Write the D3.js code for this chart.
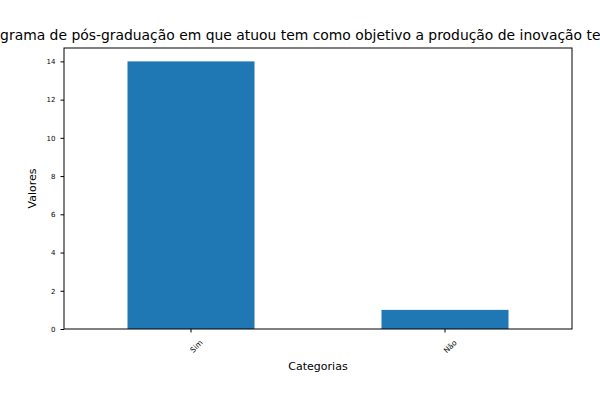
<!DOCTYPE html>
<html>
<head>
<meta charset="utf-8">
<script src="https://cdn.jsdelivr.net/npm/d3@7"></script>
<style>
  body { margin: 0; background: #fff; }
  svg text { font-family: "DejaVu Sans", sans-serif; fill: #000; }
</style>
</head>
<body>
<svg id="chart" width="600" height="400"></svg>
<script>
var categories = ['Sim', 'Não'];
var values = [14, 1];
var yTicks = [0, 2, 4, 6, 8, 10, 12, 14];
var titleText = 'O programa de pós-graduação em que atuou tem como objetivo a produção de inovação tecnológica?';

var width = 600, height = 400;
var margin = { top: 48, right: 28, bottom: 71, left: 64 };
var w = width - margin.left - margin.right;
var h = height - margin.top - margin.bottom;

var svg = d3.select('#chart');
var g = svg.append('g')
    .attr('transform', 'translate(' + margin.left + ',' + margin.top + ')');

var x = d3.scaleBand()
    .domain(categories)
    .range([0, w])
    .paddingInner(0.5)
    .paddingOuter(0.25);
var y = d3.scaleLinear()
    .domain([0, d3.max(values) * 1.05])
    .range([h, 0]);

g.selectAll('.bar')
    .data(categories)
    .enter().append('rect')
    .attr('class', 'bar')
    .attr('fill', '#1f77b4')
    .attr('x', function (d) { return x(d); })
    .attr('width', x.bandwidth())
    .attr('y', function (d, i) { return y(values[i]); })
    .attr('height', function (d, i) { return h - y(values[i]); });

var yAxis = g.append('g')
    .call(d3.axisLeft(y).tickValues(yTicks).tickSize(3.5).tickPadding(5));
yAxis.selectAll('text').style('font-size', '7px');

var xAxis = g.append('g')
    .attr('transform', 'translate(0,' + h + ')')
    .call(d3.axisBottom(x).tickSize(3.5).tickPadding(4));
xAxis.selectAll('text')
    .style('font-size', '7.5px')
    .attr('text-anchor', 'end')
    .attr('dy', '0.35em')
    .attr('transform', 'translate(5,7) rotate(-45)');

[yAxis, xAxis].forEach(function (a) {
    a.select('.domain').remove();
    a.selectAll('line').attr('stroke', '#000');
});

// frame
g.append('rect')
    .attr('width', w)
    .attr('height', h)
    .attr('fill', 'none')
    .attr('stroke', '#000')
    .attr('stroke-width', 1);

svg.append('text')
    .attr('x', margin.left + w / 2)
    .attr('y', 40)
    .attr('text-anchor', 'middle')
    .style('font-size', '13.9px')
    .text(titleText);

svg.append('text')
    .attr('x', margin.left + w / 2)
    .attr('y', 370)
    .attr('text-anchor', 'middle')
    .style('font-size', '11px')
    .text('Categorias');

svg.append('text')
    .attr('transform', 'translate(36,' + (margin.top + h / 2) + ') rotate(-90)')
    .attr('text-anchor', 'middle')
    .style('font-size', '11px')
    .text('Valores');
</script>
</body>
</html>
